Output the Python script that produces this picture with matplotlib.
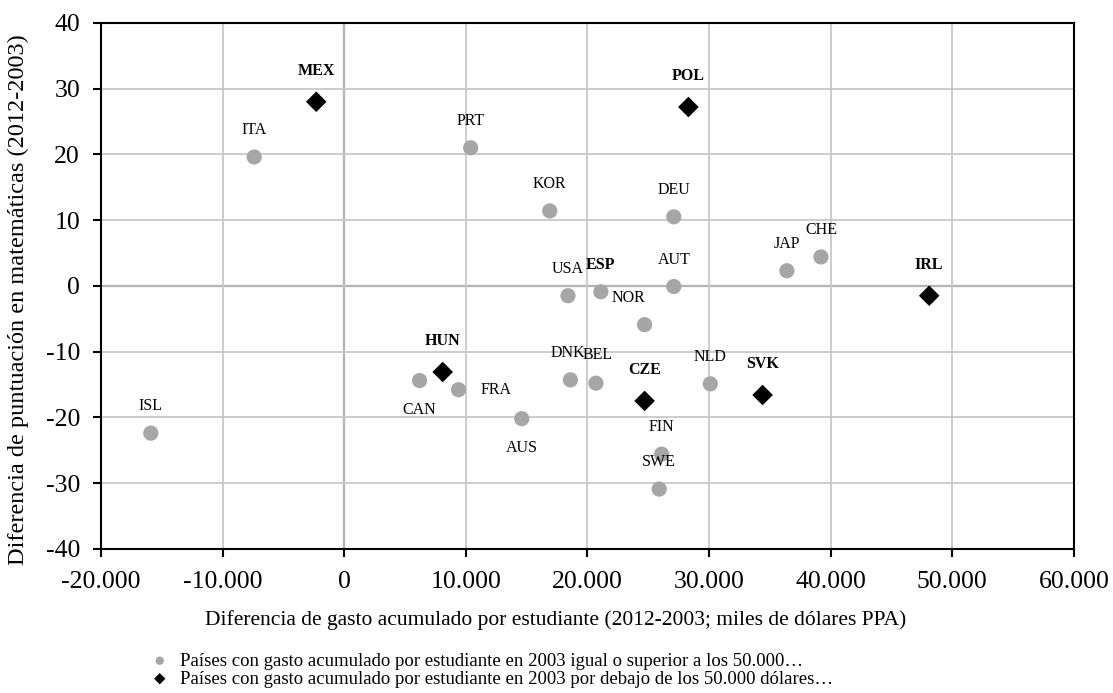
import matplotlib.pyplot as plt
from matplotlib.ticker import FuncFormatter, MultipleLocator

plt.rcParams['font.family'] = ['Liberation Serif', 'DejaVu Serif']

# gray circles: countries at or above 50.000 in 2003
high_codes = ["ITA", "PRT", "KOR", "DEU", "JAP", "CHE", "USA", "ESP", "AUT", "NOR",
              "CAN", "FRA", "ISL", "DNK", "BEL", "NLD", "AUS", "FIN", "SWE"]
high_gasto = [-7400, 10400, 16900, 27100, 36400, 39200, 18400, 21100, 27100, 24700,
              6200, 9400, -15900, 18600, 20700, 30100, 14600, 26100, 25900]
high_punt = [19.6, 21.0, 11.4, 10.5, 2.3, 4.4, -1.5, -0.9, -0.1, -5.9,
             -14.4, -15.8, -22.4, -14.3, -14.8, -14.9, -20.2, -25.6, -30.9]

# black diamonds: countries below 50.000 in 2003
low_codes = ["MEX", "POL", "IRL", "HUN", "CZE", "SVK"]
low_gasto = [-2300, 28300, 48100, 8100, 24700, 34400]
low_punt = [28.0, 27.2, -1.5, -13.1, -17.5, -16.6]

bold_codes = ["MEX", "POL", "IRL", "HUN", "CZE", "SVK", "ESP"]

# label offsets in pixels (dx, dy), default is above the marker
offsets = {"CAN": (0, -29), "AUS": (0, -29), "FRA": (38, 0), "NOR": (-16, 27),
           "DNK": (-3, 27), "BEL": (2, 28)}

legend_labels = [
    "Países con gasto acumulado por estudiante en 2003 igual o superior a los 50.000…",
    "Países con gasto acumulado por estudiante en 2003 por debajo de los 50.000 dólares…",
]

fig = plt.figure(figsize=(11.13, 6.93), dpi=100)
ax = fig.add_axes([0.0907, 0.208, 0.8742, 0.759])

ax.grid(True, color="#c8c8c8", lw=1.3, zorder=0)
ax.axhline(0, color="black", lw=1.5, zorder=1)
ax.axvline(0, color="black", lw=1.5, zorder=1)

h1 = ax.scatter(high_gasto, high_punt, s=120, marker="o", color="#a6a6a6",
                edgecolors="none", zorder=3, label=legend_labels[0])
h2 = ax.scatter(low_gasto, low_punt, s=110, marker="D", color="black",
                edgecolors="none", zorder=3, label=legend_labels[1])

for codes, xs, ys, dy_def in [(high_codes, high_gasto, high_punt, 27),
                              (low_codes, low_gasto, low_punt, 31)]:
    for c, x, y in zip(codes, xs, ys):
        dx, dy = offsets.get(c, (0, dy_def))
        ax.annotate(c, (x, y), xytext=(dx, dy), textcoords="offset pixels",
                    ha="center", va="center", fontsize=11.5,
                    fontweight="bold" if c in bold_codes else "normal", zorder=4)

ax.set_xlim(-20000, 60000)
ax.set_ylim(-40, 40)
ax.xaxis.set_major_locator(MultipleLocator(10000))
ax.yaxis.set_major_locator(MultipleLocator(10))
ax.xaxis.set_major_formatter(FuncFormatter(lambda v, p: f"{v:,.0f}".replace(",", ".")))
ax.yaxis.set_major_formatter(FuncFormatter(lambda v, p: f"{v:.0f}"))
ax.tick_params(labelsize=18.5, width=1.5, length=6, color="black")
ax.tick_params(axis="x", pad=10)
ax.tick_params(axis="y", pad=9)
for sp in ax.spines.values():
    sp.set_linewidth(1.5)
    sp.set_color("black")

ax.set_xlabel("Diferencia de gasto acumulado por estudiante (2012-2003; miles de dólares PPA)",
              fontsize=15.5)
ax.xaxis.set_label_coords(0.467, -0.117)
fig.text(18 / 1113, 1 - 300 / 693, "Diferencia de puntuación en matemáticas (2012-2003)",
         rotation=90, ha="center", va="center", fontsize=17.5)

fig.legend(handles=[h1, h2], loc="upper left", bbox_to_anchor=(0.125, 0.072),
           frameon=False, fontsize=13.5, labelspacing=0.05, handletextpad=0.5,
           borderpad=0, markerscale=0.55, handlelength=1.2)

fig.savefig("out.png", dpi=100)
